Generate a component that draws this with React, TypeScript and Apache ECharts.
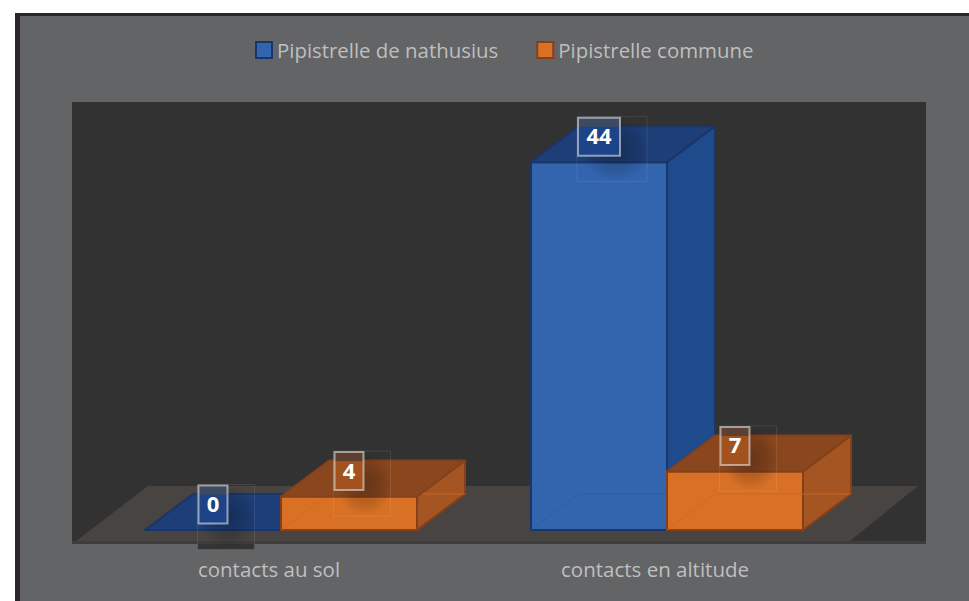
import React, { useEffect, useRef } from "react";
import * as echarts from "echarts";

const categories = ["contacts au sol", "contacts en altitude"];
const nathusius = [0, 44];
const commune = [4, 7];
const seriesNames = ["Pipistrelle de nathusius", "Pipistrelle commune"];

const W = 969;
const H = 601;
const FONT = "'Open Sans', 'Noto Sans', sans-serif";
const DEPTH_X = 48;
const DEPTH_Y = 36;
const BAR_RATIO = 136 / 386;

type Tone = {
  front: string;
  top: string;
  side: string;
  edge: string;
  ghost: string;
  boxLow: string;
  boxHigh: string;
};

const blue: Tone = {
  front: "#3364ae",
  top: "#1e3e78",
  side: "#1f4a8c",
  edge: "#1a3568",
  ghost: "rgba(45,92,160,0.8)",
  boxLow: "#1d4488",
  boxHigh: "#3c4a62",
};
const orange: Tone = {
  front: "#d87126",
  top: "#8a471e",
  side: "#a45522",
  edge: "#85401a",
  ghost: "rgba(205,105,35,0.85)",
  boxLow: "#a2521f",
  boxHigh: "#5e4030",
};

function makeRender(tone: Tone, slot: number) {
  return (_params: any, api: any) => {
    const cat = api.value(0);
    const val = api.value(1);
    const [cx, yVal] = api.coord([cat, val]);
    const [, y0] = api.coord([cat, 0]);
    const bw = api.size([1, 0])[0] * BAR_RATIO;
    const xl = cx + slot * bw;
    const xr = xl + bw;
    const line = { stroke: tone.edge, lineWidth: 2, lineJoin: "round" };
    const kids: any[] = [];

    if (val > 0) {
      kids.push({
        type: "polygon",
        shape: { points: [[xr, yVal], [xr + DEPTH_X, yVal - DEPTH_Y], [xr + DEPTH_X, y0 - DEPTH_Y], [xr, y0]] },
        style: { fill: tone.side, ...line },
      });
      kids.push({
        type: "rect",
        shape: { x: xl, y: yVal, width: bw, height: y0 - yVal },
        style: { fill: tone.front, ...line },
      });
      kids.push({
        type: "polyline",
        shape: { points: [[xl, y0], [xl + DEPTH_X, y0 - DEPTH_Y], [xr + DEPTH_X, y0 - DEPTH_Y]] },
        style: { fill: "none", stroke: tone.ghost, lineWidth: 1 },
      });
    }
    kids.push({
      type: "polygon",
      shape: { points: [[xl, yVal], [xr, yVal], [xr + DEPTH_X, yVal - DEPTH_Y], [xl + DEPTH_X, yVal - DEPTH_Y]] },
      style: { fill: tone.top, ...line },
    });

    // data label with its soft shadow and faint leader frame
    const lx = xl + bw / 2;
    const ly = yVal - 25.5;
    const boxW = String(Math.round(val)).length > 1 ? 42 : 29;
    const frameW = boxW + 28;
    const frameX = lx - boxW / 2 - 1;
    const frameY = ly - 20;
    const plotBottom = y0 + 14;
    if (frameY + 65 > plotBottom) {
      kids.push({
        type: "rect",
        shape: { x: frameX, y: plotBottom, width: frameW, height: frameY + 65 - plotBottom },
        style: { fill: "#343434" },
      });
    }
    kids.push({
      type: "rect",
      shape: { x: frameX, y: frameY, width: frameW, height: 65 },
      style: {
        fill: {
          type: "radial",
          x: 0.55,
          y: 0.5,
          r: 0.5,
          colorStops: [
            { offset: 0, color: "rgba(0,0,0,0.26)" },
            { offset: 0.6, color: "rgba(0,0,0,0.14)" },
            { offset: 1, color: "rgba(0,0,0,0)" },
          ],
        },
        stroke: "rgba(255,255,255,0.09)",
        lineWidth: 1,
      },
    });
    kids.push({
      type: "rect",
      shape: { x: lx - boxW / 2, y: ly - 19, width: boxW, height: 38 },
      style: {
        fill: {
          type: "linear",
          x: 0,
          y: 0,
          x2: 0,
          y2: 1,
          colorStops: [
            { offset: 0, color: tone.boxHigh },
            { offset: 0.23, color: tone.boxHigh },
            { offset: 0.25, color: tone.boxLow },
            { offset: 1, color: tone.boxLow },
          ],
        },
        stroke: "rgba(225,225,225,0.6)",
        lineWidth: 2,
      },
    });
    kids.push({
      type: "text",
      style: {
        text: String(val),
        x: lx,
        y: ly - 1.5,
        fill: "#ffffff",
        font: `bold 22px ${FONT}`,
        align: "center",
        verticalAlign: "middle",
      },
    });
    return { type: "group", children: kids };
  };
}

export default function App() {
  const ref = useRef<HTMLDivElement>(null);
  useEffect(() => {
    const chart = echarts.init(ref.current!, undefined, { renderer: "svg" });
    chart.setOption({
      animation: false,
      backgroundColor: "#ffffff",
      grid: { left: 88, width: 772, top: 112, height: 418 },
      graphic: [
        { type: "rect", z: -10, shape: { x: 15, y: 13, width: W, height: H }, style: { fill: "#2b2728" } },
        { type: "rect", z: -9, shape: { x: 20, y: 16, width: W, height: H }, style: { fill: "#636466" } },
        { type: "rect", z: -8, shape: { x: 72, y: 102, width: 854, height: 442 }, style: { fill: "#323232" } },
        { type: "polygon", z: -7, shape: { points: [[76, 541], [148, 486], [918, 486], [850, 541]] }, style: { fill: "#474442" } },
        { type: "rect", z: -7, shape: { x: 72, y: 541, width: 854, height: 3 }, style: { fill: "#3e3d3d" } },
      ],
      legend: {
        left: 255,
        top: 40,
        padding: 0,
        itemWidth: 16,
        itemHeight: 16,
        itemGap: 38,
        textStyle: { color: "#bfbfbf", fontSize: 20.4, fontFamily: FONT },
        data: [
          { name: seriesNames[0], icon: "rect", itemStyle: { color: blue.front, borderColor: blue.edge, borderWidth: 2 } },
          { name: seriesNames[1], icon: "rect", itemStyle: { color: orange.front, borderColor: orange.edge, borderWidth: 2 } },
        ],
      },
      xAxis: {
        type: "category",
        data: categories,
        axisLine: { show: false },
        axisTick: { show: false },
        axisLabel: {
          color: "#bfbfbf",
          fontSize: 20.5,
          fontFamily: FONT,
          margin: 28,
          padding: [0, 24, 0, 0],
        },
      },
      yAxis: { type: "value", min: 0, max: 50, show: false },
      series: [
        {
          type: "custom",
          name: seriesNames[0],
          renderItem: makeRender(blue, -1),
          clip: false,
          itemStyle: { color: blue.front },
          encode: { x: 0, y: 1 },
          data: nathusius.map((v, i) => [i, v]),
        },
        {
          type: "custom",
          name: seriesNames[1],
          renderItem: makeRender(orange, 0),
          clip: false,
          itemStyle: { color: orange.front },
          encode: { x: 0, y: 1 },
          data: commune.map((v, i) => [i, v]),
        },
      ],
    });
    return () => chart.dispose();
  }, []);
  return <div ref={ref} style={{ position: "fixed", left: 0, top: 0, width: W, height: H }} />;
}
